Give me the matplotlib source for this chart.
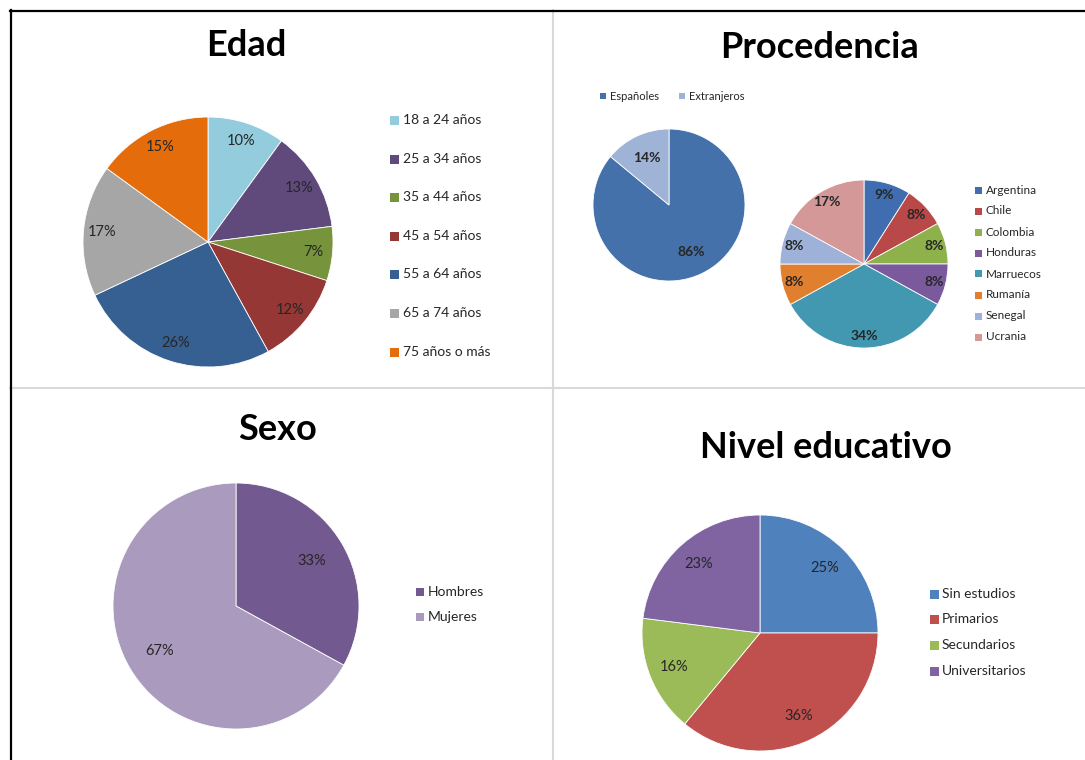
import matplotlib
matplotlib.use("Agg")
import matplotlib.pyplot as plt
from matplotlib.patches import Rectangle
from matplotlib.lines import Line2D

plt.rcParams['font.family'] = ['Lato', 'DejaVu Sans']

W, H = 1085, 760

# ---------------- data ----------------
edad_labels = ["18 a 24 años", "25 a 34 años", "35 a 44 años", "45 a 54 años",
               "55 a 64 años", "65 a 74 años", "75 años o más"]
edad_values = [10, 13, 7, 12, 26, 17, 15]
edad_colors = ["#93CDDD", "#604A7B", "#77933C", "#953735", "#376092", "#A6A6A6", "#E46C0A"]

proc_labels = ["Españoles", "Extranjeros"]
proc_values = [86, 14]
proc_colors = ["#4571AA", "#9FB3D6"]

pais_labels = ["Argentina", "Chile", "Colombia", "Honduras", "Marruecos",
               "Rumanía", "Senegal", "Ucrania"]
pais_values = [9, 8, 8, 8, 34, 8, 8, 17]
pais_colors = ["#3F6DAF", "#B94848", "#8FB14C", "#7A5A9C", "#4298B0",
               "#E0802F", "#9EB2D9", "#D49898"]

sexo_labels = ["Hombres", "Mujeres"]
sexo_values = [33, 67]
sexo_colors = ["#72598F", "#AA9BBE"]

edu_labels = ["Sin estudios", "Primarios", "Secundarios", "Universitarios"]
edu_values = [25, 36, 16, 23]
edu_colors = ["#4F81BD", "#C0504D", "#9BBB59", "#8064A2"]

fig = plt.figure(figsize=(W / 100, H / 100), dpi=100)
fig.patch.set_facecolor("white")

TXT = "#262626"


def fx(x):
    return x / W


def fy(y):
    return 1 - y / H


def pie_ax(cx, cy, r, values, colors, labeldistance, fontsize, bold=False):
    ax = fig.add_axes([fx(cx - r), fy(cy + r), 2 * r / W, 2 * r / H])
    wedges, texts = ax.pie(values, colors=colors, startangle=90, counterclock=False,
                           labels=[f"{v}%" for v in values], labeldistance=labeldistance,
                           wedgeprops=dict(linewidth=0.6, edgecolor="white"),
                           textprops=dict(fontsize=fontsize, color=TXT,
                                          fontweight="bold" if bold else "normal",
                                          ha="center", va="center"))
    for t in texts:
        t.set_ha("center")
        t.set_va("center")
    ax.set_xlim(-1, 1)
    ax.set_ylim(-1, 1)
    ax.axis("off")
    return ax


def legend(x_sq, x_txt, ys, labels, colors, size_px, fontsize, bold=False):
    for y, lab, c in zip(ys, labels, colors):
        fig.patches.append(Rectangle((fx(x_sq), fy(y + size_px / 2)), size_px / W, size_px / H,
                                     transform=fig.transFigure, facecolor=c, edgecolor="none"))
        fig.text(fx(x_txt), fy(y), lab, fontsize=fontsize, color=TXT, va="center", ha="left",
                 fontweight="bold" if bold else "normal")


# ---------------- table grid ----------------
grid = "#D9D9D9"
fig.add_artist(Line2D([fx(553), fx(553)], [fy(10), fy(760)], color=grid, lw=1.5, transform=fig.transFigure))
fig.add_artist(Line2D([fx(10), fx(1085)], [fy(388), fy(388)], color=grid, lw=1.5, transform=fig.transFigure))
fig.add_artist(Line2D([fx(10), fx(1085)], [fy(11), fy(11)], color="black", lw=1.6, transform=fig.transFigure))
fig.add_artist(Line2D([fx(10.5), fx(10.5)], [fy(10), fy(760)], color="black", lw=1.6, transform=fig.transFigure))

TSIZE = 26

# ---------------- Edad ----------------
fig.text(fx(246), fy(45), "Edad", fontsize=TSIZE, fontweight="bold", ha="center", va="center")
pie_ax(208, 242, 125, edad_values, edad_colors, 0.85, 10.5)
legend(390, 403, [120, 159, 197, 236, 274, 313, 352], edad_labels, edad_colors, 9, 10)

# ---------------- Procedencia ----------------
fig.text(fx(820), fy(48), "Procedencia", fontsize=TSIZE, fontweight="bold", ha="center", va="center")
pie_ax(669, 205, 76, proc_values, proc_colors, 0.68, 10, bold=True)
legend(600, 610, [96], proc_labels[:1], proc_colors[:1], 6, 8)
legend(679, 689, [96], proc_labels[1:], proc_colors[1:], 6, 8)
pie_ax(864, 264, 84, pais_values, pais_colors, 0.86, 10, bold=True)
legend(975, 986, [190, 211, 232, 253, 274, 295, 316, 337], pais_labels, pais_colors, 7, 8.5)

# ---------------- Sexo ----------------
fig.text(fx(278), fy(430), "Sexo", fontsize=TSIZE, fontweight="bold", ha="center", va="center")
pie_ax(236, 606, 123, sexo_values, sexo_colors, 0.72, 10.5)
legend(416, 428, [592, 617], sexo_labels, sexo_colors, 8, 10)

# ---------------- Nivel educativo ----------------
fig.text(fx(826), fy(447), "Nivel educativo", fontsize=TSIZE, fontweight="bold", ha="center", va="center")
pie_ax(760, 633, 118, edu_values, edu_colors, 0.78, 10.5)
legend(930, 942, [594, 619, 645, 671], edu_labels, edu_colors, 9, 10)

fig.savefig("out.png", dpi=100, facecolor="white")
